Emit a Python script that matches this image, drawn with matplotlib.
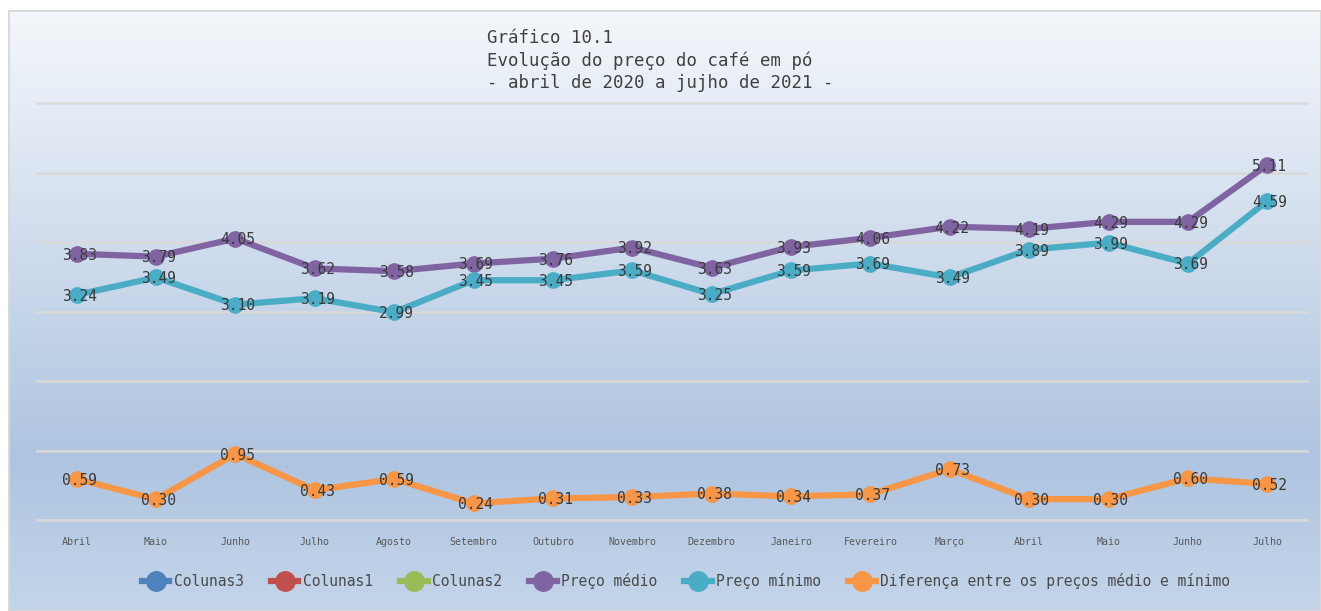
import numpy as np
import matplotlib
matplotlib.use("Agg")
import matplotlib.pyplot as plt
from matplotlib.lines import Line2D

months = ["Abril", "Maio", "Junho", "Julho", "Agosto", "Setembro", "Outubro", "Novembro",
          "Dezembro", "Janeiro", "Fevereiro", "Março", "Abril", "Maio", "Junho", "Julho"]
preco_medio = [3.83, 3.79, 4.05, 3.62, 3.58, 3.69, 3.76, 3.92, 3.63, 3.93, 4.06, 4.22, 4.19, 4.29, 4.29, 5.11]
preco_minimo = [3.24, 3.49, 3.10, 3.19, 2.99, 3.45, 3.45, 3.59, 3.25, 3.59, 3.69, 3.49, 3.89, 3.99, 3.69, 4.59]
diferenca = [0.59, 0.30, 0.95, 0.43, 0.59, 0.24, 0.31, 0.33, 0.38, 0.34, 0.37, 0.73, 0.30, 0.30, 0.60, 0.52]
title_lines = ["Gráfico 10.1", "Evolução do preço do café em pó", "- abril de 2020 a jujho de 2021 -"]
legend_names = ["Colunas3", "Colunas1", "Colunas2", "Preço médio", "Preço mínimo",
                "Diferença entre os preços médio e mínimo"]
legend_colors = ["#4F81BD", "#C0504D", "#9BBB59", "#8064A2", "#4BACC6", "#F79646"]

W, H = 1321, 611
fig = plt.figure(figsize=(W / 100, H / 100), dpi=100)
fig.patch.set_facecolor("white")

# background gradient frame
bg = fig.add_axes([8 / W, 0, (W - 8) / W, (H - 10) / H])
bg.set_axis_off()
c_top = np.array([0xF4, 0xF7, 0xFB]) / 255
c_mid = np.array([0xAE, 0xC4, 0xE0]) / 255
c_bot = np.array([0xC4, 0xD5, 0xEA]) / 255
n = 300
t = np.linspace(0, 1, n)
grad = np.zeros((n, 1, 3))
for i, v in enumerate(t):
    if v < 0.75:
        f = v / 0.75
        grad[i, 0] = c_top * (1 - f) + c_mid * f
    else:
        f = (v - 0.75) / 0.25
        grad[i, 0] = c_mid * (1 - f) + c_bot * f
bg.imshow(grad, aspect="auto", extent=[0, 1, 0, 1], origin="upper")
bg.set_xlim(0, 1)
bg.set_ylim(0, 1)
bg.add_patch(plt.Rectangle((0, 0), 1, 1, fill=False, edgecolor="#D9D9D9", lw=2,
                           transform=bg.transAxes))

mono = "DejaVu Sans Mono"

# plot axes: x 37..1307 px, y top 103 (6) to bottom 520 (0)
left, right, top, bottom = 37, 1307, 103, 520
ax = fig.add_axes([left / W, 1 - bottom / H, (right - left) / W, (bottom - top) / H])
ax.set_facecolor("none")
x = np.arange(len(months))
ax.set_xlim(-0.5, len(months) - 0.5)
ax.set_ylim(0, 6)
for yv in range(0, 7):
    ax.axhline(yv, color="#D9D9D9", lw=1.8, zorder=1, clip_on=False)

series = [(preco_medio, "#8064A2"), (preco_minimo, "#4BACC6"), (diferenca, "#F79646")]
for vals, col in series:
    ax.plot(x, vals, color=col, lw=4.5, marker="o", markersize=11, zorder=3,
            solid_capstyle="round", clip_on=False)
    for xi, v in zip(x, vals):
        ax.text(xi + 0.03, v - 0.02, f"{v:.2f}", ha="center", va="center",
                fontsize=10.5, family=mono, color="#3A3A3A", zorder=5)

ax.set_xticks(x)
ax.set_xticklabels(months, family=mono, fontsize=7.2, color="#595959")
ax.tick_params(axis="x", length=0, pad=12)
ax.set_yticks([])
for s in ax.spines.values():
    s.set_visible(False)

fig.text(487 / W, 1 - 29 / H, "\n".join(title_lines), ha="left", va="top",
         family=mono, fontsize=12.5, color="#404040", linespacing=1.3)

handles = [Line2D([0], [0], color=c, lw=4.5, marker="o", markersize=14) for c in legend_colors]
leg = fig.legend(handles, legend_names, loc="center", bbox_to_anchor=(686 / W, 1 - 581 / H),
                 ncol=6, frameon=False, prop={"family": mono, "size": 10.5},
                 handlelength=1.9, handletextpad=0.3, columnspacing=1.85, labelcolor="#4A4A4A")

fig.savefig("out.png", dpi=100)
